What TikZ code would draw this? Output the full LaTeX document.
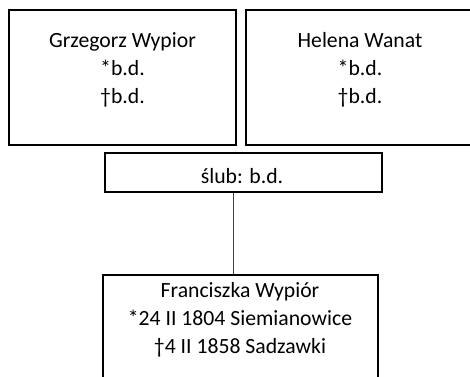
\documentclass[tikz,border=0pt]{standalone}
\usepackage{fontspec}
\setmainfont{Carlito}
\begin{document}
\begin{tikzpicture}[x=1pt,y=-1pt,
  box/.style={draw=black,line width=1.3pt,inner sep=0pt},
  txt/.style={font=\fontsize{21.7}{28}\selectfont,align=center,inner sep=0pt,anchor=base},
  conn/.style={draw=black!75,line width=0.7pt}]
\useasboundingbox (0,0) rectangle (470,376);
\clip (0,0) rectangle (470,376);
\path[fill=white] (0,0) rectangle (470,376);
\node[box,minimum width=227pt,minimum height=135pt] (f) at (122.5,77.5) {};
\node[box,minimum width=228pt,minimum height=135pt] (m) at (360,77.5) {};
\node[box,minimum width=277pt,minimum height=39pt] (s) at (243.5,172.5) {};
\node[box,minimum width=275pt,minimum height=110pt] (c) at (240.5,330) {};
\node[txt] (ft) at (122.5,103) {Grzegorz Wypior\\*b.d.\\†b.d.};
\node[txt] (mt) at (360,103) {Helena Wanat\\*b.d.\\†b.d.};
\node[txt] (st) at (242,183) {ślub: b.d.};
\node[txt] (ct) at (240,353) {Franciszka Wypiór\\*24 II 1804 Siemianowice\\†4 II 1858 Sadzawki};
\coordinate (a) at (233,0);
\draw[conn] (a |- s.south) -- (a |- c.north);
\end{tikzpicture}
\end{document}
